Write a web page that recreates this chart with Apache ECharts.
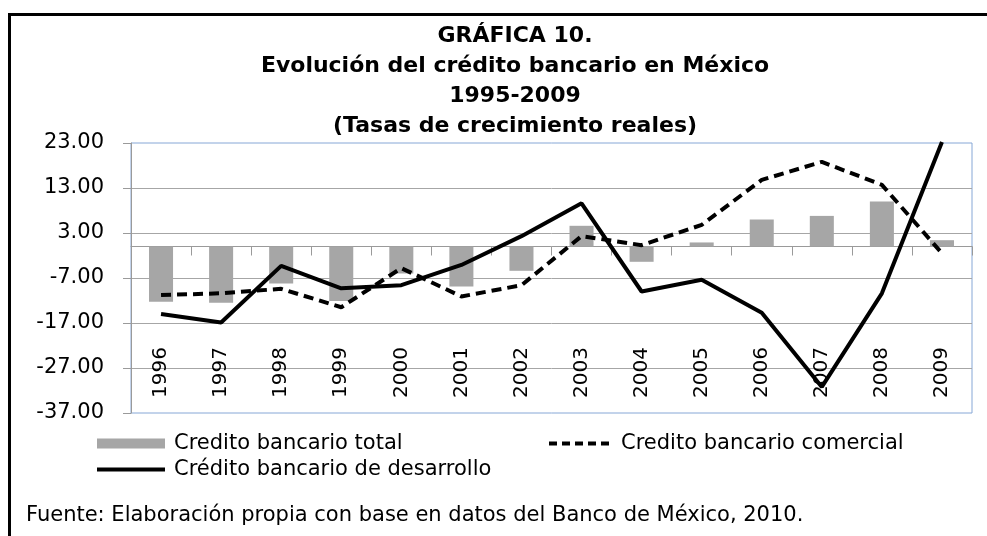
<!DOCTYPE html>
<html>
<head>
<meta charset="utf-8">
<script src="https://cdn.jsdelivr.net/npm/echarts@6/dist/echarts.min.js"></script>
<style>
  html, body { margin: 0; padding: 0; background: #fff; }
  #chart { width: 987px; height: 536px; }
</style>
</head>
<body>
<div id="chart"></div>
<script>
// años
const years = ["1996", "1997", "1998", "1999", "2000", "2001", "2002", "2003", "2004", "2005", "2006", "2007", "2008", "2009"];

// tasas de crecimiento reales (%)
const creditoTotal = [-12.3, -12.5, -8.2, -12.1, -6.0, -8.9, -5.4, 4.6, -3.4, 0.9, 6.0, 6.8, 10.0, 1.4];
const creditoComercial = [-10.8, -10.4, -9.4, -13.5, -4.8, -11.1, -8.6, 2.3, 0.3, 4.8, 14.8, 18.8, 13.7, -1.5];
const creditoDesarrollo = [-15.0, -16.9, -4.3, -9.3, -8.6, -4.1, 2.3, 9.6, -10.0, -7.4, -14.7, -31.2, -10.4, 23.2];

// eje y
const yMin = -37;
const yMax = 23;
const yStep = 10;

const font = "DejaVu Sans";

const myChart = echarts.init(document.getElementById("chart"));

// leyenda: solo la línea, sin el punto
const lineLegend = (name, dash) => ({
  name: name,
  itemStyle: { opacity: 0 },
  lineStyle: { width: 4, type: dash },
});

const option = {
  backgroundColor: "#fff",
  animation: false,
  title: [
    {
      text: "GRÁFICA 10.\nEvolución del crédito bancario en México\n1995-2009\n(Tasas de crecimiento reales)",
      left: 510,
      top: 16,
      textAlign: "center",
      textStyle: {
        fontFamily: font,
        fontSize: 22,
        fontWeight: "bold",
        color: "#000",
        lineHeight: 30,
      },
    },
    {
      text: "Fuente: Elaboración propia con base en datos del Banco de México, 2010.",
      left: 21,
      top: 500,
      textStyle: {
        fontFamily: font,
        fontSize: 21,
        fontWeight: "normal",
        color: "#000",
      },
    },
  ],
  graphic: [
    {
      type: "rect",
      shape: { x: 9.5, y: 14.5, width: 1000, height: 560 },
      style: { fill: null, stroke: "#000", lineWidth: 3 },
      silent: true,
    },
  ],
  legend: [
    {
      orient: "vertical",
      left: 90,
      top: 428,
      itemWidth: 68,
      itemHeight: 10,
      itemGap: 5,
      textStyle: { fontFamily: font, fontSize: 21, color: "#000", padding: [0, 0, 0, 4] },
      data: [
        { name: "Credito bancario total", icon: "rect" },
        lineLegend("Crédito bancario de desarrollo", "solid"),
      ],
    },
    {
      orient: "vertical",
      left: 542,
      top: 428,
      itemWidth: 62,
      itemHeight: 10,
      textStyle: { fontFamily: font, fontSize: 21, color: "#000", padding: [0, 0, 0, 5] },
      data: [lineLegend("Credito bancario comercial", [8, 5])],
    },
  ],
  grid: {
    left: 131,
    right: 15,
    top: 143,
    bottom: 123,
    show: true,
    borderColor: "#86A7D6",
    borderWidth: 1,
    backgroundColor: "#fff",
  },
  xAxis: [
    {
      // eje en cero con marcas
      type: "category",
      data: years,
      axisLine: { onZero: true, lineStyle: { color: "#9A9A9A", width: 1 } },
      axisTick: { show: true, length: 9, lineStyle: { color: "#9A9A9A" } },
      axisLabel: { show: false },
      splitLine: { show: false },
    },
    {
      // etiquetas abajo, dentro del área
      type: "category",
      data: years,
      position: "bottom",
      axisLine: { show: false },
      axisTick: { show: false },
      axisLabel: {
        inside: true,
        rotate: 90,
        margin: 15,
        fontFamily: font,
        fontSize: 20,
        color: "#000",
      },
      splitLine: { show: false },
    },
  ],
  yAxis: {
    type: "value",
    min: yMin,
    max: yMax,
    interval: yStep,
    axisLine: { show: true, lineStyle: { color: "#9A9A9A" } },
    axisTick: { show: true, length: 8, lineStyle: { color: "#9A9A9A" } },
    axisLabel: {
      margin: 27,
      fontFamily: font,
      fontSize: 21,
      color: "#000",
      formatter: (v) => v.toFixed(2),
    },
    splitLine: {
      show: true,
      showMinLine: false,
      showMaxLine: false,
      lineStyle: { color: "#A6A6A6", width: 1 },
    },
  },
  series: [
    {
      name: "Credito bancario total",
      type: "bar",
      xAxisIndex: 0,
      data: creditoTotal,
      barWidth: "40%",
      itemStyle: { color: "#A6A6A6" },
    },
    {
      name: "Credito bancario comercial",
      type: "line",
      xAxisIndex: 0,
      data: creditoComercial,
      symbol: "none",
      lineStyle: { color: "#000", width: 4, type: [10, 6] },
      itemStyle: { color: "#000" },
    },
    {
      name: "Crédito bancario de desarrollo",
      type: "line",
      xAxisIndex: 0,
      data: creditoDesarrollo,
      symbol: "none",
      lineStyle: { color: "#000", width: 4 },
      itemStyle: { color: "#000" },
    },
  ],
};

myChart.setOption(option);
window.addEventListener("resize", function () {
  myChart.resize();
});
</script>
</body>
</html>
